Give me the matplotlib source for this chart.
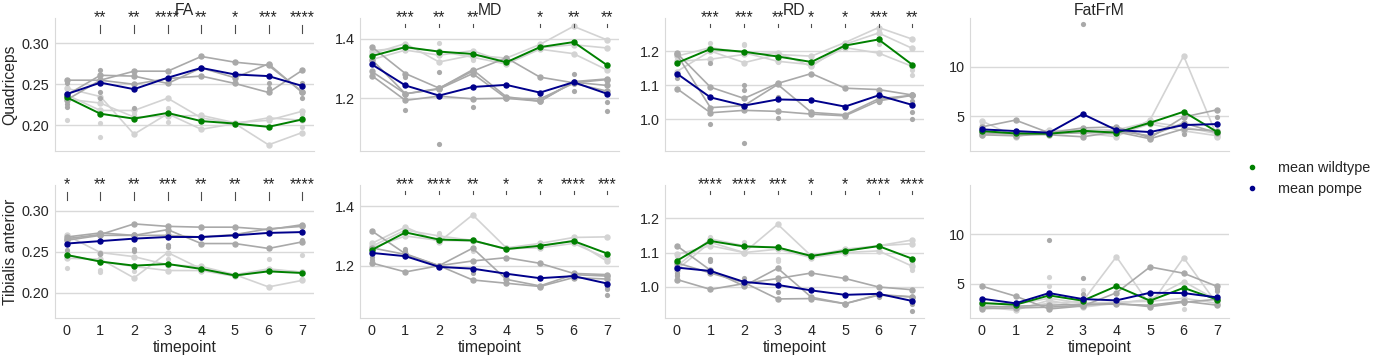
import matplotlib
matplotlib.use('Agg')
import matplotlib.pyplot as plt
from matplotlib.lines import Line2D

nan = float('nan')

timepoints = [0, 1, 2, 3, 4, 5, 6, 7]
muscles = ['Quadriceps', 'Tibialis anterior']
metrics = ['FA', 'MD', 'RD', 'FatFrM']

# ---- FA ----
fa_q_wt_mean = [0.234, 0.214, 0.208, 0.215, 0.205, 0.202, 0.198, 0.207]
fa_q_pompe_mean = [0.238, 0.252, 0.244, 0.258, 0.270, 0.262, 0.260, 0.248]
fa_q_wt = [[0.245, 0.235, 0.189, 0.214, 0.195, 0.202, 0.209, 0.206],
           [0.237, 0.218, 0.218, 0.233, 0.209, 0.202, 0.176, 0.191],
           [0.232, 0.227, 0.210, 0.211, 0.212, 0.203, 0.206, 0.217]]
fa_q_pompe = [[0.255, 0.255, 0.266, 0.266, 0.284, 0.277, 0.273, 0.241],
              [0.237, 0.261, 0.260, 0.251, 0.270, 0.258, 0.275, 0.240],
              [0.231, 0.255, 0.250, 0.257, 0.260, 0.251, 0.240, 0.267]]
fa_q_wt_dots = [(0, 0.206), (0, 0.244), (1, 0.185), (1, 0.203), (2, 0.214),
                (3, 0.204), (3, 0.221), (7, 0.214), (7, 0.198)]
fa_q_pompe_dots = [(0, 0.252), (0, 0.222), (0, 0.226), (1, 0.268), (1, 0.240),
                   (1, 0.233), (2, 0.221), (6, 0.251), (6, 0.245), (7, 0.251), (7, 0.233)]
fa_q_stars = ['', '**', '**', '****', '**', '*', '***', '****']

fa_t_wt_mean = [0.246, 0.238, 0.233, 0.235, 0.229, 0.221, 0.226, 0.224]
fa_t_pompe_mean = [0.260, 0.263, 0.266, 0.268, 0.268, 0.270, 0.273, 0.274]
fa_t_wt = [[0.270, 0.249, 0.244, 0.234, 0.232, 0.222, 0.207, 0.215],
           [0.242, 0.241, 0.218, 0.249, 0.229, 0.222, 0.229, 0.225],
           [0.246, 0.238, 0.232, 0.227, 0.227, 0.220, 0.228, 0.225]]
fa_t_pompe = [[0.266, 0.271, 0.284, 0.281, 0.280, 0.280, 0.277, 0.283],
              [0.268, 0.273, 0.270, 0.277, 0.260, 0.260, 0.254, 0.262],
              [0.264, 0.270, 0.270, 0.270, 0.268, 0.271, 0.278, 0.281]]
fa_t_wt_dots = [(0, 0.230), (0, 0.250), (1, 0.225), (1, 0.228), (2, 0.226),
                (3, 0.241), (6, 0.241), (7, 0.246), (7, 0.217)]
fa_t_pompe_dots = [(0, 0.252), (1, 0.249), (1, 0.247), (2, 0.253), (2, 0.251),
                   (3, 0.258), (3, 0.256), (7, 0.264)]
fa_t_stars = ['*', '**', '**', '***', '**', '**', '**', '****']

# ---- MD ----
md_q_wt_mean = [1.342, 1.372, 1.357, 1.349, 1.321, 1.372, 1.389, 1.311]
md_q_pompe_mean = [1.314, 1.243, 1.209, 1.238, 1.245, 1.219, 1.254, 1.215]
md_q_wt = [[1.350, 1.384, 1.322, 1.345, 1.335, 1.381, 1.442, 1.396],
           [1.330, 1.362, 1.345, 1.360, 1.320, 1.370, 1.380, 1.369],
           [1.360, 1.370, 1.358, 1.338, 1.315, 1.365, 1.350, 1.295]]
md_q_pompe = [[1.373, 1.283, 1.234, 1.291, 1.336, 1.271, 1.252, 1.263],
              [1.330, 1.215, 1.231, 1.283, 1.200, 1.190, 1.254, 1.243],
              [1.276, 1.193, 1.207, 1.198, 1.200, 1.198, 1.250, 1.224],
              [1.290, 1.215, 1.233, 1.296, 1.205, 1.190, 1.256, 1.265]]
md_q_wt_dots = [(2, 1.385), (3, 1.330)]
md_q_pompe_dots = [(1, 1.162), (1, 1.270), (2, 1.047), (2, 1.288), (3, 1.171),
                   (6, 1.283), (6, 1.224), (7, 1.188), (7, 1.156)]
md_q_stars = ['', '***', '**', '**', '', '*', '**', '**']

md_t_wt_mean = [1.253, 1.312, 1.288, 1.285, 1.256, 1.267, 1.283, 1.241]
md_t_pompe_mean = [1.243, 1.232, 1.196, 1.190, 1.173, 1.158, 1.165, 1.140]
md_t_wt = [[1.275, 1.330, 1.280, 1.371, 1.260, 1.275, 1.295, 1.297],
           [1.260, 1.300, 1.285, 1.283, 1.258, 1.260, 1.275, 1.225],
           [1.265, 1.320, 1.300, 1.285, 1.255, 1.265, 1.285, 1.215]]
md_t_pompe = [[1.317, 1.240, 1.200, 1.259, 1.154, 1.132, 1.170, 1.165],
              [1.260, 1.238, 1.200, 1.152, 1.141, 1.130, 1.160, 1.155],
              [1.209, 1.179, 1.200, 1.216, 1.227, 1.208, 1.174, 1.170]]
md_t_wt_dots = [(2, 1.310), (3, 1.250), (3, 1.260)]
md_t_pompe_dots = [(0, 1.230), (0, 1.220), (1, 1.255), (1, 1.250), (3, 1.175),
                   (3, 1.185), (7, 1.103), (7, 1.120), (7, 1.130)]
md_t_stars = ['', '***', '****', '**', '*', '*', '****', '***']

# ---- RD ----
rd_q_wt_mean = [1.165, 1.206, 1.198, 1.184, 1.168, 1.216, 1.234, 1.160]
rd_q_pompe_mean = [1.134, 1.064, 1.040, 1.058, 1.056, 1.037, 1.070, 1.042]
rd_q_wt = [[1.140, 1.200, 1.166, 1.190, 1.185, 1.225, 1.269, 1.235],
           [1.170, 1.176, 1.190, 1.195, 1.155, 1.220, 1.253, 1.208],
           [1.185, 1.210, 1.195, 1.170, 1.160, 1.210, 1.194, 1.155]]
rd_q_pompe = [[1.194, 1.094, 1.061, 1.105, 1.134, 1.091, 1.087, 1.071],
              [1.190, 1.034, 1.040, 1.102, 1.020, 1.013, 1.060, 1.070],
              [1.090, 1.019, 1.026, 1.023, 1.015, 1.010, 1.054, 1.070]]
rd_q_wt_dots = [(1, 1.223), (2, 1.217), (2, 1.222), (3, 1.168), (6, 1.220),
                (7, 1.131), (7, 1.145)]
rd_q_pompe_dots = [(0, 1.120), (1, 1.166), (1, 0.985), (2, 1.100), (2, 1.087),
                   (2, 0.929), (3, 1.003), (3, 1.064), (6, 1.050), (7, 1.020),
                   (7, 1.002), (7, 1.052)]
rd_q_stars = ['', '***', '***', '**', '*', '*', '***', '**']

rd_t_wt_mean = [1.076, 1.134, 1.118, 1.115, 1.090, 1.105, 1.119, 1.082]
rd_t_pompe_mean = [1.056, 1.046, 1.014, 1.005, 0.989, 0.976, 0.979, 0.958]
rd_t_wt = [[1.095, 1.120, 1.100, 1.183, 1.090, 1.110, 1.120, 1.137],
           [1.060, 1.140, 1.120, 1.115, 1.090, 1.105, 1.120, 1.126],
           [1.050, 1.130, 1.100, 1.110, 1.085, 1.100, 1.105, 1.060]]
rd_t_pompe = [[1.120, 1.048, 1.002, 1.054, 0.969, 0.950, 0.977, 0.970],
              [1.070, 1.040, 1.012, 0.964, 0.965, 0.950, 0.975, 0.970],
              [1.021, 0.992, 1.009, 1.024, 1.040, 1.024, 0.999, 0.991]]
rd_t_wt_dots = [(0, 1.090), (1, 1.145), (2, 1.130), (3, 1.080), (3, 1.075),
                (7, 1.070), (7, 1.050)]
rd_t_pompe_dots = [(0, 1.035), (0, 1.040), (0, 1.030), (1, 1.080), (1, 1.075),
                   (2, 1.025), (3, 0.984), (3, 1.020), (6, 0.970), (7, 0.948), (7, 0.928)]
rd_t_stars = ['', '****', '****', '***', '*', '*', '****', '****']

# ---- FatFrM ----
ff_q_wt_mean = [3.48, 3.24, 3.21, 3.51, 3.31, 4.32, 5.44, 3.38]
ff_q_pompe_mean = [3.65, 3.48, 3.31, 5.20, 3.58, 3.38, 4.09, 4.19]
ff_q_wt = [[4.5, 2.9, 3.6, 3.3, 2.9, 4.6, 11.1, 2.9],
           [3.5, 3.0, 3.5, 3.6, 3.6, 4.4, 3.9, 3.2],
           [3.1, 3.3, 3.3, 3.4, 3.1, 4.2, 3.5, 3.0]]
ff_q_pompe = [[3.9, 4.59, 3.3, 3.8, 3.9, 2.8, 4.9, 5.64],
              [3.3, 3.2, 3.1, 2.9, 3.4, 2.7, 3.7, 3.5],
              [3.1, 3.0, 3.2, 3.3, 3.5, 3.0, 4.3, 3.3]]
ff_q_wt_dots = [(0, 4.2), (1, 3.5)]
ff_q_pompe_dots = [(3, 14.36), (6, 3.2), (7, 4.9)]
ff_q_stars = [''] * 8

ff_t_wt_mean = [3.02, 2.85, 3.79, 3.26, 4.73, 3.26, 4.56, 3.36]
ff_t_pompe_mean = [3.46, 2.99, 4.03, 3.42, 3.29, 4.06, 4.03, 3.59]
ff_t_wt = [[2.8, 2.5, 3.0, 3.2, 7.72, 2.8, 7.62, 2.9],
           [2.6, 2.3, 3.3, 2.6, 3.0, 3.4, 5.2, 3.3],
           [3.0, 2.9, 3.5, 3.0, 3.1, 3.2, 3.5, 3.0]]
ff_t_pompe = [[4.73, 3.72, 2.42, 2.72, 4.06, 6.68, 6.04, 4.70],
              [2.45, 2.52, 2.6, 2.8, 3.0, 2.65, 3.1, 3.4],
              [2.6, 2.7, 2.8, 2.9, 2.9, 2.8, 3.2, 2.8]]
ff_t_wt_dots = [(2, 5.7), (2, 4.73), (3, 4.3), (6, 2.4)]
ff_t_pompe_dots = [(2, 9.4), (3, 5.54), (3, 3.9), (6, 3.0), (7, 4.4), (7, 4.2)]
ff_t_stars = [''] * 8

panels = [
    [(fa_q_wt_mean, fa_q_pompe_mean, fa_q_wt, fa_q_pompe, fa_q_wt_dots, fa_q_pompe_dots, fa_q_stars),
     (md_q_wt_mean, md_q_pompe_mean, md_q_wt, md_q_pompe, md_q_wt_dots, md_q_pompe_dots, md_q_stars),
     (rd_q_wt_mean, rd_q_pompe_mean, rd_q_wt, rd_q_pompe, rd_q_wt_dots, rd_q_pompe_dots, rd_q_stars),
     (ff_q_wt_mean, ff_q_pompe_mean, ff_q_wt, ff_q_pompe, ff_q_wt_dots, ff_q_pompe_dots, ff_q_stars)],
    [(fa_t_wt_mean, fa_t_pompe_mean, fa_t_wt, fa_t_pompe, fa_t_wt_dots, fa_t_pompe_dots, fa_t_stars),
     (md_t_wt_mean, md_t_pompe_mean, md_t_wt, md_t_pompe, md_t_wt_dots, md_t_pompe_dots, md_t_stars),
     (rd_t_wt_mean, rd_t_pompe_mean, rd_t_wt, rd_t_pompe, rd_t_wt_dots, rd_t_pompe_dots, rd_t_stars),
     (ff_t_wt_mean, ff_t_pompe_mean, ff_t_wt, ff_t_pompe, ff_t_wt_dots, ff_t_pompe_dots, ff_t_stars)],
]

# axis ranges / ticks per metric column
ylims = [(0.169, 0.331), (1.024, 1.470), (0.908, 1.297), (1.5, 14.95)]
yticks = [[0.20, 0.25, 0.30], [1.2, 1.4], [1.0, 1.1, 1.2], [5, 10]]
ytick_fmt = ['{:.2f}', '{:.1f}', '{:.1f}', '{:.0f}']
tick_spans = [(0.947, 0.887), (0.955, 0.932), (0.955, 0.932), (0.955, 0.932)]

plt.rcParams['font.family'] = ['Liberation Sans', 'DejaVu Sans']
txt = '0.15'

fig, axes = plt.subplots(2, 4, figsize=(13.85, 3.57), dpi=100, sharex=True, sharey='col')
fig.subplots_adjust(left=0.0397, right=0.8874, bottom=0.1092, top=0.9496,
                    wspace=0.178, hspace=0.263)

for r in range(2):
    for c in range(4):
        ax = axes[r, c]
        wt_mean, pompe_mean, wt, pompe, wt_dots, pompe_dots, stars = panels[r][c]

        for row in wt:
            ax.plot(timepoints, row, color='lightgray', lw=1.2, marker='o', ms=3.6, zorder=2)
        if wt_dots:
            ax.scatter([d[0] for d in wt_dots], [d[1] for d in wt_dots],
                       color='lightgray', s=14, lw=0, zorder=2)
        for row in pompe:
            ax.plot(timepoints, row, color='darkgray', lw=1.2, marker='o', ms=3.6, zorder=2.5)
        if pompe_dots:
            ax.scatter([d[0] for d in pompe_dots], [d[1] for d in pompe_dots],
                       color='darkgray', s=14, lw=0, zorder=2.5)

        ax.plot(timepoints, wt_mean, color='green', lw=1.4, marker='o', ms=3.6, zorder=4)
        ax.plot(timepoints, pompe_mean, color='darkblue', lw=1.4, marker='o', ms=3.6, zorder=4)

        # significance annotations
        y0, y1 = tick_spans[c]
        for t, s in zip(timepoints, stars):
            if s:
                ax.plot([t, t], [y0, y1], transform=ax.get_xaxis_transform(),
                        color='0.3', lw=0.8, clip_on=False)
                ax.annotate(s, xy=(t, 1.0), xycoords=('data', 'axes fraction'),
                            xytext=(0, -3), textcoords='offset points',
                            ha='center', va='baseline', fontsize=11.3, color=txt,
                            annotation_clip=False)

        ax.set_xlim(-0.35, 7.35)
        ax.set_ylim(*ylims[c])
        ax.set_xticks(timepoints)
        ax.set_yticks(yticks[c])
        ax.set_yticklabels([ytick_fmt[c].format(v) for v in yticks[c]])
        ax.grid(axis='y', color='0.85', lw=1)
        ax.set_axisbelow(True)
        for sp in ['top', 'right']:
            ax.spines[sp].set_visible(False)
        for sp in ['left', 'bottom']:
            ax.spines[sp].set_color('0.85')
        ax.tick_params(length=0, labelsize=10.4, colors=txt, pad=4)

        if r == 0:
            ax.set_title(metrics[c], fontsize=11.3, pad=2, color=txt)
        else:
            ax.set_xlabel('timepoint', fontsize=11.3, labelpad=2, color=txt)
        if c == 0:
            ax.set_ylabel(muscles[r], fontsize=11.3, labelpad=3, color=txt)

handles = [Line2D([], [], marker='o', ls='', color='green', ms=3),
           Line2D([], [], marker='o', ls='', color='darkblue', ms=3)]
fig.legend(handles, ['mean wildtype', 'mean pompe'], loc='center left',
           bbox_to_anchor=(0.884, 0.5), frameon=False, fontsize=10.4,
           labelcolor=txt)

fig.savefig('out.png', dpi=100)
